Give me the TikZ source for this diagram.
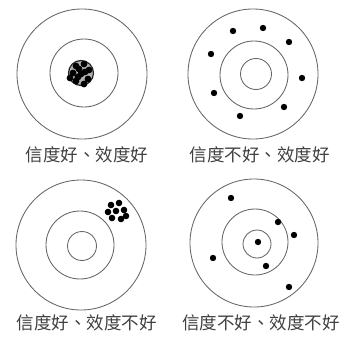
\documentclass[tikz,border=0pt]{standalone}
\usepackage{fontspec}
\newfontfamily\cjk{Noto Sans CJK TC}
\begin{document}
\begin{tikzpicture}[x=1pt,y=-1pt,
  ring/.style={draw=black!60,line width=0.85pt},
  shot/.style={fill=black},
  caption/.style={font=\cjk\fontsize{17.5}{18}\selectfont,text=black!75,inner sep=0pt}]
\useasboundingbox[fill=white] (0,0) rectangle (345,337);
% panel 1
\draw[ring] (82,74) circle (65);
\draw[ring] (84,73) circle (34);
\draw[ring,draw=black!85,line width=1.2pt,fill=black!30] (81,73) circle (12.5);
\foreach \p in {(76,66),(84,64),(89,70),(73,73),(81,74),(88,79),(76,81),(84,84),(79,69),(70,78),(85,72),(78,77)}
  \fill[shot] \p circle (3.4);
\node[caption] (t1) at (87,155) {信度好、效度好};
% panel 2
\draw[ring] (253,74) circle (65);
\draw[ring] (254,75) circle (34);
\draw[ring] (256,74) circle (15.5);
\foreach \p in {(233,31),(263,28),(289,42),(211,54),(302,78),(214,93),(284,107),(240,116)}
  \fill[shot] \p circle (3.2);
\node[caption] (t2) at (259.5,155) {信度不好、效度好};
% panel 3
\draw[ring] (81,245) circle (65);
\draw[ring] (80,245) circle (34);
\draw[ring] (82,246) circle (14.5);
\foreach \p in {(111,205),(119,203),(108,212),(116,211),(124,210),(112,218),(121,219),(126,216)}
  \fill[shot] \p circle (3.3);
\node[caption] (t3) at (86.5,323) {信度好、效度不好};
% panel 4
\draw[ring] (254,243) circle (64);
\draw[ring] (255,242) circle (33);
\draw[ring] (257,244) circle (14);
\foreach \p in {(231,198),(278,222),(294,235),(258,242),(213,258),(266,266),(289,287)}
  \fill[shot] \p circle (3.2);
\node[caption] (t4) at (261,323) {信度不好、效度不好};
\end{tikzpicture}
\end{document}
